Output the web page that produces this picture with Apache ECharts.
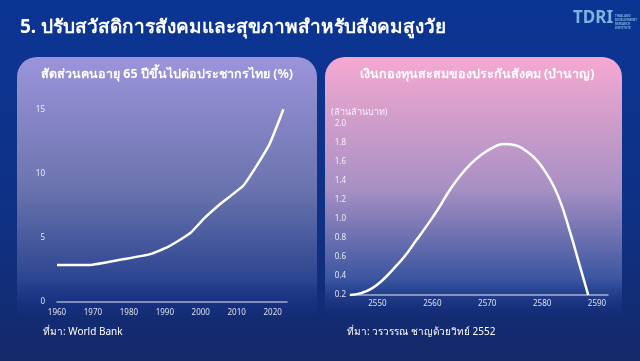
<!DOCTYPE html>
<html><head><meta charset="utf-8">
<script src="https://cdn.jsdelivr.net/npm/echarts@6/dist/echarts.min.js"></script>
<style>html,body{margin:0;padding:0;background:#0b3390;}#c{width:640px;height:361px;}</style>
</head><body><div id="c"></div>
<script>
// Left chart: share of population aged 65+ in Thailand (%)
const leftYears = [1960, 1969, 1978, 1986, 1991, 1997, 2001, 2006, 2012, 2019, 2023];
const leftValues = [2.85, 2.85, 3.28, 3.7, 4.28, 5.32, 6.5, 7.74, 9.09, 12.2, 15.0];
const leftTicks = [1960, 1970, 1980, 1990, 2000, 2010, 2020];
// Right chart: Social security pension fund (trillion baht)
const rightYears = [2545, 2547, 2549, 2551, 2553, 2555, 2557, 2559, 2561, 2563, 2565, 2567, 2569, 2571, 2573, 2575, 2577, 2579, 2581, 2583, 2585, 2587, 2588.4];
const rightValues = [0.2, 0.22, 0.27, 0.36, 0.48, 0.61, 0.77, 0.93, 1.1, 1.29, 1.45, 1.58, 1.68, 1.75, 1.79, 1.78, 1.72, 1.62, 1.46, 1.23, 0.88, 0.48, 0.2];
const rightTicks = [2550, 2560, 2570, 2580, 2590];

const mainTitle = '5. ปรับสวัสดิการสังคมและสุขภาพสำหรับสังคมสูงวัย';
const leftTitle = 'สัดส่วนคนอายุ 65 ปีขึ้นไปต่อประชากรไทย (%)';
const rightTitle = 'เงินกองทุนสะสมของประกันสังคม (บำนาญ)';
const rightUnit = '(ล้านล้านบาท)';
const leftSource = 'ที่มา: World Bank';
const rightSource = 'ที่มา: วรวรรณ ชาญด้วยวิทย์ 2552';

const FONT = 'Noto Sans, sans-serif';
const chart = echarts.init(document.getElementById('c'), null, {renderer: 'canvas'});

function lg(stops) {
  return new echarts.graphic.LinearGradient(0, 0, 0, 1, stops.map(s => ({offset: s[0], color: s[1]})));
}

const labelStyle = {color: 'rgba(255,255,255,0.85)', fontSize: 8, fontFamily: FONT};

chart.setOption({
  animation: false,
  backgroundColor: 'transparent',
  graphic: [
    {type: 'rect', z: -10, shape: {x: 0, y: 0, width: 640, height: 361},
     style: {fill: lg([[0, '#0b3594'], [0.6, '#0f3185'], [1, '#15296a']])}},
    {type: 'rect', z: -9, shape: {x: 17, y: 57, width: 300, height: 262, r: [20, 20, 0, 0]},
     style: {fill: lg([[0, '#9c94db'], [0.5, '#6b74ae'], [0.85, '#2c4590'], [1, 'rgba(25,50,140,0)']])}},
    {type: 'rect', z: -9, shape: {x: 325, y: 57, width: 297, height: 262, r: [20, 20, 0, 0]},
     style: {fill: lg([[0, '#f5a9d1'], [0.5, '#a890c4'], [0.85, '#3a55a0'], [1, 'rgba(25,50,140,0)']])}},
    {type: 'text', left: 20, top: 18, style: {text: mainTitle, fill: '#ffffff', font: 'bold 19px ' + FONT}},
    {type: 'text', left: 573, top: 10, style: {text: 'TDRI', fill: '#7fb2df', font: 'bold 17px ' + FONT}},
    {type: 'text', left: 615, top: 14, style: {text: 'THAILAND\nDEVELOPMENT\nRESEARCH\nINSTITUTE', fill: '#7fb2df', font: 'bold 3px ' + FONT, lineHeight: 4}},
    {type: 'text', x: 167, y: 74, style: {text: leftTitle, fill: '#ffffff', font: 'bold 12.5px ' + FONT, align: 'center', verticalAlign: 'middle'}},
    {type: 'text', x: 477, y: 74, style: {text: rightTitle, fill: '#ffffff', font: 'bold 12.5px ' + FONT, align: 'center', verticalAlign: 'middle'}},
    {type: 'text', x: 331, y: 112, style: {text: rightUnit, fill: 'rgba(255,255,255,0.85)', font: '9px ' + FONT, verticalAlign: 'middle'}},
    {type: 'text', x: 43, y: 332, style: {text: leftSource, fill: '#ffffff', font: '10px ' + FONT, verticalAlign: 'middle'}},
    {type: 'text', x: 347, y: 332, style: {text: rightSource, fill: '#ffffff', font: '10px ' + FONT, verticalAlign: 'middle'}}
  ],
  grid: [
    {left: 57, right: 640 - 287, top: 109.3, bottom: 361 - 301.5},
    {left: 350, right: 640 - 608, top: 124, bottom: 361 - 295}
  ],
  xAxis: [
    {gridIndex: 0, type: 'value', min: 1960, max: 2024, interval: 10,
     axisLine: {lineStyle: {color: 'rgba(255,255,255,0.6)', width: 1.5}}, axisTick: {show: false}, splitLine: {show: false},
     axisLabel: Object.assign({margin: 7, formatter: v => leftTicks.includes(v) ? String(v) : ''}, labelStyle)},
    {gridIndex: 1, type: 'value', min: 2545, max: 2592, interval: 5,
     axisLine: {lineStyle: {color: 'rgba(255,255,255,0.6)', width: 1.5}}, axisTick: {show: false}, splitLine: {show: false},
     axisLabel: Object.assign({margin: 5, formatter: v => rightTicks.includes(v) ? String(v) : ''}, labelStyle)}
  ],
  yAxis: [
    {gridIndex: 0, type: 'value', min: 0, max: 15, interval: 5,
     axisLine: {show: false}, axisTick: {show: false}, splitLine: {show: false},
     axisLabel: Object.assign({margin: 12}, labelStyle)},
    {gridIndex: 1, type: 'value', min: 0.2, max: 2.0, interval: 0.2,
     axisLine: {show: false}, axisTick: {show: false}, splitLine: {show: false},
     axisLabel: Object.assign({margin: 4, formatter: v => v.toFixed(1)}, labelStyle)}
  ],
  series: [
    {type: 'line', xAxisIndex: 0, yAxisIndex: 0, data: leftYears.map((y, i) => [y, leftValues[i]]),
     showSymbol: false, smooth: 0.15, lineStyle: {color: '#ffffff', width: 2.5}},
    {type: 'line', xAxisIndex: 1, yAxisIndex: 1, data: rightYears.map((y, i) => [y, rightValues[i]]),
     showSymbol: false, smooth: 0.5, lineStyle: {color: '#ffffff', width: 2.5}}
  ]
});
</script></body></html>
